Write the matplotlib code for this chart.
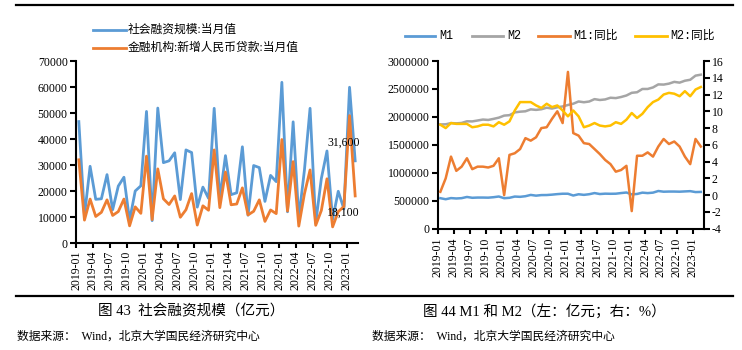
import matplotlib
matplotlib.use("Agg")
import matplotlib.pyplot as plt
from matplotlib.lines import Line2D
import numpy as np

# ---------------- data ----------------
months = [f"{y}-{m:02d}" for y in range(2019, 2024) for m in range(1, 13)][:50]

tsf = [46700, 10500, 29500, 16800, 17000, 26300, 12800, 21900, 25300, 8700, 20000, 22000,
       50600, 8600, 51900, 30900, 31600, 34700, 16700, 35800, 34800, 13800, 21500, 17200,
       51800, 17100, 33600, 18600, 19300, 37000, 10700, 29800, 29000, 16000, 26000, 23600,
       61800, 12000, 46600, 9600, 28000, 51800, 7600, 24800, 35400, 9100, 19900, 13100,
       59900, 31600]
loans = [32000, 8800, 16900, 10200, 11800, 16600, 10600, 12100, 16900, 6600, 13900, 11400,
         33400, 9000, 28500, 17000, 14800, 18100, 9900, 12800, 19000, 6900, 14300, 12600,
         35800, 13600, 27300, 14700, 15000, 21200, 10800, 12200, 16600, 8300, 12700, 11300,
         39800, 12300, 31300, 6500, 18900, 28100, 6800, 12500, 24700, 6200, 12100, 14000,
         49000, 18100]

m1 = [545638, 527190, 547576, 540614, 546327, 567696, 553043, 557138, 557137, 555175, 563487, 576009,
      545531, 552700, 575050, 570150, 581100, 604318, 591200, 601300, 602300, 609200, 618600, 625600,
      625600, 593500, 616100, 605400, 616800, 637500, 620100, 626700, 624600, 626100, 637500, 647400,
      613900, 621600, 645100, 636800, 645100, 674400, 661800, 664600, 664500, 662100, 667000, 671700,
      655200, 657900]
m2 = [1865900, 1867400, 1889400, 1884700, 1891500, 1921400, 1919400, 1935500, 1952500, 1945600, 1964600, 1986500,
      2023100, 2030800, 2080900, 2093500, 2100200, 2134900, 2125500, 2136800, 2164100, 2149700, 2172100, 2186800,
      2213000, 2236000, 2276000, 2262100, 2275400, 2317800, 2302500, 2312300, 2342800, 2336200, 2356000, 2382900,
      2431000, 2441000, 2499400, 2499700, 2527000, 2581500, 2578100, 2595100, 2626700, 2612900, 2647100, 2664300,
      2738100, 2755200]
m1_yoy = [0.4, 2.0, 4.6, 2.9, 3.4, 4.4, 3.1, 3.4, 3.4, 3.3, 3.5, 4.4,
          0.0, 4.8, 5.0, 5.5, 6.8, 6.5, 6.9, 8.0, 8.1, 9.1, 10.0, 8.6,
          14.7, 7.4, 7.1, 6.2, 6.1, 5.5, 4.9, 4.2, 3.7, 2.8, 3.0, 3.5,
          -1.9, 4.7, 4.7, 5.1, 4.6, 5.8, 6.7, 6.1, 6.4, 5.8, 4.6, 3.7,
          6.7, 5.8]
m2_yoy = [8.4, 8.0, 8.6, 8.5, 8.5, 8.5, 8.1, 8.2, 8.4, 8.4, 8.2, 8.7,
          8.4, 8.8, 10.1, 11.1, 11.1, 11.1, 10.7, 10.4, 10.9, 10.5, 10.7, 10.1,
          9.4, 10.1, 9.4, 8.1, 8.3, 8.6, 8.3, 8.2, 8.3, 8.7, 8.5, 9.0,
          9.8, 9.2, 9.7, 10.5, 11.1, 11.4, 12.0, 12.2, 12.1, 11.8, 12.4, 11.8,
          12.6, 12.9]

left_legend = ["社会融资规模:当月值", "金融机构:新增人民币贷款:当月值"]
right_legend = ["M1", "M2", "M1:同比", "M2:同比"]
left_ticks = [0, 10000, 20000, 30000, 40000, 50000, 60000, 70000]
right_left_ticks = [0, 500000, 1000000, 1500000, 2000000, 2500000, 3000000]
right_right_ticks = [-4, -2, 0, 2, 4, 6, 8, 10, 12, 14, 16]
cap_left = "图 43  社会融资规模（亿元）"
cap_right = "图 44 M1 和 M2（左：亿元；右：%）"
source = "数据来源：  Wind，北京大学国民经济研究中心"

# ---------------- style ----------------
BLUE, ORANGE, GRAY, GOLD = "#5B9BD5", "#ED7D31", "#A5A5A5", "#FFC000"
SERIF = ["Liberation Serif", "DejaVu Serif"]
MIXED = ["Liberation Serif", "Noto Sans CJK SC", "DejaVu Sans"]
MONO = ["Liberation Mono", "Noto Sans CJK SC", "DejaVu Sans"]
TFS = 8.5

W, H = 742, 350
fig = plt.figure(figsize=(W / 100, H / 100), dpi=100)


def fx(px):
    return px / W


def fy(py):
    return 1 - py / H


def add_ax(x0, y0, x1, y1):
    return fig.add_axes([fx(x0), fy(y1), fx(x1 - x0), (y1 - y0) / H])


x = np.arange(len(months))
tick_idx = list(range(0, len(months), 3))
SPW = 1.5

# ---------------- left chart ----------------
axL = add_ax(76, 61, 358, 243)
axL.plot(x, tsf, color=BLUE, lw=2.0)
axL.plot(x, loans, color=ORANGE, lw=2.0)
axL.set_xlim(-0.5, len(months) - 0.5)
axL.set_ylim(0, 70000)
axL.set_yticks(left_ticks)
axL.set_yticklabels([str(v) for v in left_ticks], fontfamily=SERIF, fontsize=TFS)
axL.set_xticks([i - 0.5 for i in tick_idx])
axL.set_xticklabels([months[i] for i in tick_idx], rotation=90, fontfamily=SERIF, fontsize=TFS)
for s in ["top", "right"]:
    axL.spines[s].set_visible(False)
for s in ["left", "bottom"]:
    axL.spines[s].set_linewidth(SPW)
axL.tick_params(axis="y", direction="out", length=4, width=SPW, pad=2)
axL.tick_params(axis="x", direction="out", length=3.5, width=SPW, pad=2)
axL.text(len(months) - 0.2, 38600, "31,600", ha="right", va="center",
         fontfamily=SERIF, fontsize=TFS)
axL.text(len(months) - 0.2, 11500, "18,100", ha="right", va="center",
         fontfamily=SERIF, fontsize=TFS)
axL.patch.set_alpha(0)

# left legend
for row, (lab, col) in enumerate(zip(left_legend, [BLUE, ORANGE])):
    yy = 30 + row * 17.5
    fig.add_artist(Line2D([fx(93), fx(126)], [fy(yy), fy(yy)], color=col, lw=2.0))
    fig.text(fx(128), fy(yy), lab, ha="left", va="center", fontfamily=MIXED, fontsize=8.5)

# ---------------- right chart ----------------
axR = add_ax(437.7, 61, 703.5, 228.7)
axR.plot(x, m1, color=BLUE, lw=1.8)
axR.plot(x, m2, color=GRAY, lw=1.8)
axR.set_xlim(-0.5, len(months) - 0.5)
axR.set_ylim(0, 3000000)
axR.set_yticks(right_left_ticks)
axR.set_yticklabels([str(v) for v in right_left_ticks], fontfamily=SERIF, fontsize=TFS)
axR.set_xticks([i - 0.5 for i in tick_idx])
axR.set_xticklabels([months[i] for i in tick_idx], rotation=90, fontfamily=SERIF, fontsize=TFS)
axR2 = axR.twinx()
axR2.plot(x, m1_yoy, color=ORANGE, lw=1.8)
axR2.plot(x, m2_yoy, color=GOLD, lw=1.8)
axR2.set_ylim(-4, 16)
axR2.set_yticks(right_right_ticks)
axR2.set_yticklabels([str(v) for v in right_right_ticks], fontfamily=SERIF, fontsize=TFS)
for a in (axR, axR2):
    a.spines["top"].set_visible(False)
    for s in ["left", "bottom", "right"]:
        a.spines[s].set_linewidth(SPW)
axR.spines["right"].set_visible(False)
axR2.spines["left"].set_visible(False)
axR2.spines["bottom"].set_visible(False)
axR.tick_params(axis="y", direction="out", length=4, width=SPW, pad=2)
axR.tick_params(axis="x", direction="out", length=3.5, width=SPW, pad=3)
axR2.tick_params(axis="y", direction="out", length=4, width=SPW, pad=2)
axR.patch.set_alpha(0)

# right legend
leg_pos = [(405, 435, 439), (472, 503, 507), (538, 570, 573), (635, 667, 670)]
for (l0, l1, t0), lab, col in zip(leg_pos, right_legend, [BLUE, GRAY, ORANGE, GOLD]):
    fig.add_artist(Line2D([fx(l0), fx(l1)], [fy(36), fy(36)], color=col, lw=2.0))
    fig.text(fx(t0), fy(36), lab, ha="left", va="center", fontfamily=MONO, fontsize=8.5)

# ---------------- frame lines and captions ----------------
for yy in (5, 296):
    fig.add_artist(Line2D([fx(16), fx(733)], [fy(yy), fy(yy)], color="black", lw=1.6))

fig.text(fx(191), fy(311), cap_left, ha="center", va="center", fontfamily=MIXED, fontsize=10.5)
fig.text(fx(544), fy(311), cap_right, ha="center", va="center", fontfamily=MIXED, fontsize=10.5)
fig.text(fx(17), fy(336.5), source, ha="left", va="center", fontfamily=MIXED, fontsize=8.5)
fig.text(fx(372), fy(336.5), source, ha="left", va="center", fontfamily=MIXED, fontsize=8.5)

fig.savefig("out.png", dpi=100)
